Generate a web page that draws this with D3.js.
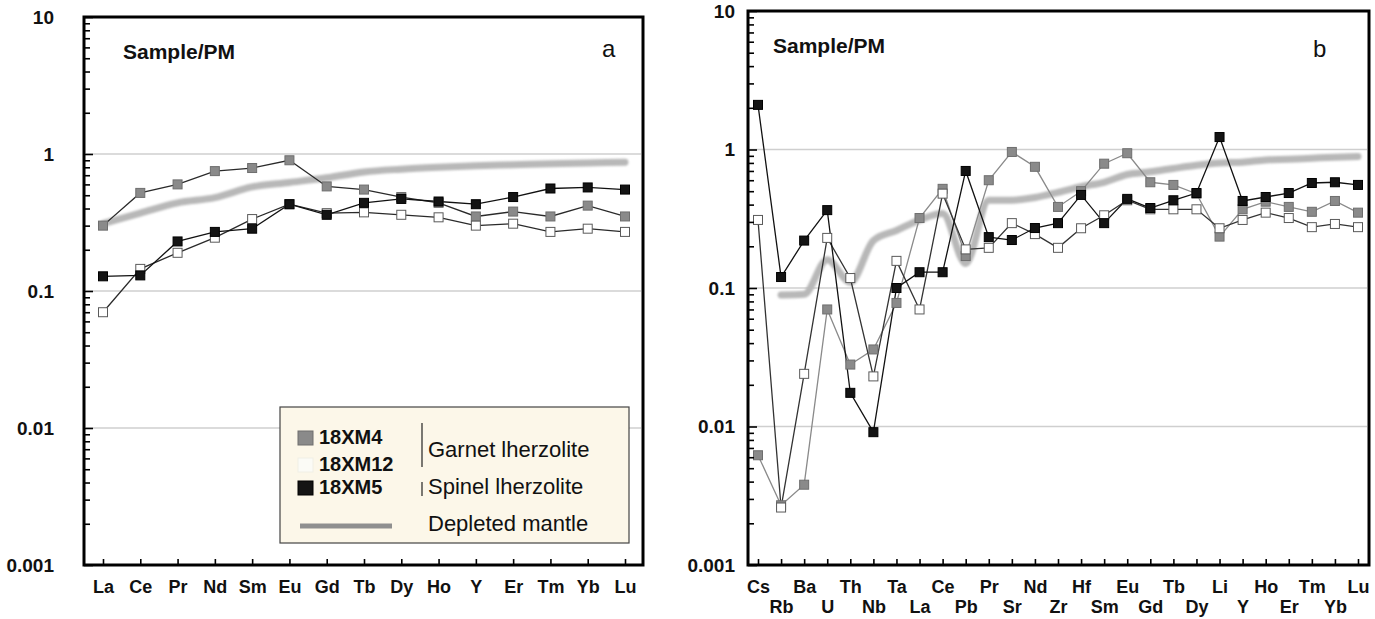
<!DOCTYPE html>
<html>
<head>
<meta charset="utf-8">
<script src="https://cdn.jsdelivr.net/npm/d3@7"></script>
<style>
  body { margin: 0; background: #fff; }
  text { font-family: "Liberation Sans", Arial, sans-serif; }
</style>
</head>
<body>
<script>
"use strict";

// Panel a: REE, normalised to primitive mantle
const catsA = ["La", "Ce", "Pr", "Nd", "Sm", "Eu", "Gd", "Tb", "Dy", "Ho", "Y", "Er", "Tm", "Yb", "Lu"];
const xm4A  = [0.30, 0.52, 0.60, 0.75, 0.79, 0.90, 0.58, 0.55, 0.485, 0.44, 0.35, 0.38, 0.35, 0.42, 0.35];
const xm12A = [0.07, 0.145, 0.19, 0.245, 0.335, 0.43, 0.37, 0.375, 0.36, 0.345, 0.30, 0.31, 0.27, 0.285, 0.27];
const xm5A  = [0.128, 0.13, 0.23, 0.27, 0.285, 0.43, 0.36, 0.44, 0.47, 0.45, 0.43, 0.485, 0.56, 0.57, 0.55];
const dmA   = [0.31, 0.37, 0.44, 0.48, 0.575, 0.62, 0.67, 0.74, 0.775, 0.80, 0.82, 0.835, 0.85, 0.86, 0.87];

// Panel b: trace elements, normalised to primitive mantle
const catsB = ["Cs", "Rb", "Ba", "U", "Th", "Nb", "Ta", "La", "Ce", "Pb", "Pr", "Sr", "Nd", "Zr",
               "Hf", "Sm", "Eu", "Gd", "Tb", "Dy", "Li", "Y", "Ho", "Er", "Tm", "Yb", "Lu"];
const xm4B  = [0.0062, 0.0027, 0.0038, 0.07, 0.028, 0.036, 0.078, 0.32, 0.52, 0.17, 0.60, 0.96, 0.75, 0.385,
               0.50, 0.79, 0.94, 0.58, 0.555, 0.48, 0.235, 0.37, 0.42, 0.385, 0.355, 0.425, 0.35];
const xm12B = [0.31, 0.0026, 0.024, 0.23, 0.118, 0.023, 0.157, 0.07, 0.48, 0.19, 0.195, 0.294, 0.245, 0.195,
               0.27, 0.335, 0.43, 0.37, 0.37, 0.37, 0.27, 0.31, 0.35, 0.32, 0.275, 0.29, 0.275];
const xm5B  = [2.1, 0.12, 0.22, 0.365, 0.0175, 0.0091, 0.10, 0.13, 0.13, 0.70, 0.233, 0.222, 0.271, 0.294,
               0.47, 0.294, 0.44, 0.378, 0.43, 0.485, 1.23, 0.425, 0.454, 0.485, 0.573, 0.58, 0.555];
const dmB   = [null, 0.089, 0.09, 0.16, 0.11, 0.22, 0.26, 0.31, 0.345, 0.15, 0.43, 0.43, 0.45, 0.49,
               0.54, 0.58, 0.66, 0.69, 0.73, 0.77, 0.80, 0.81, 0.84, 0.85, 0.865, 0.88, 0.89];

// Y axis labels
const yMajor = [0.001, 0.01, 0.1, 1, 10];
const yLabels = ["0.001", "0.01", "0.1", "1", "10"];

// Legend entries
const sampleNames = ["18XM4", "18XM12", "18XM5"];
const rockTypes = ["Garnet lherzolite", "Spinel lherzolite", "Depleted mantle"];

const styles = {
  xm4:  { fill: "#8a8a8a", stroke: "#6e6e6e" },
  xm12: { fill: "#ffffff", stroke: "#5a5a5a" },
  xm5:  { fill: "#141414", stroke: "#000000" }
};

const svg = d3.select("body").append("svg")
  .attr("width", 1375)
  .attr("height", 619);

// Soft blur for the depleted mantle band.
svg.append("defs").append("filter")
  .attr("id", "soft")
  .append("feGaussianBlur")
  .attr("stdDeviation", 1.2);

// Draws one spider diagram panel.
function drawPanel(p) {
  const g = svg.append("g");
  const x = d3.scalePoint().domain(p.cats).range([p.xFirst, p.xLast]);
  const y = d3.scaleLog().domain([0.001, 10]).range([p.bottom, p.top]);

  // Grid lines at inner decades
  g.selectAll(".grid")
    .data([0.01, 0.1, 1])
    .enter().append("line")
    .attr("x1", p.left + 2).attr("x2", p.right - 2)
    .attr("y1", d => y(d)).attr("y2", d => y(d))
    .attr("stroke", "#cfcfcf")
    .attr("stroke-width", 1.6);

  // Depleted mantle band
  const dmLine = d3.line()
    .defined(d => d.v != null)
    .x(d => x(d.c))
    .y(d => y(d.v))
    .curve(d3.curveMonotoneX);
  g.append("path")
    .datum(p.cats.map((c, i) => ({ c: c, v: p.dm[i] })))
    .attr("d", dmLine)
    .attr("fill", "none")
    .attr("stroke", "#b8b8b8")
    .attr("stroke-width", 7)
    .attr("stroke-linecap", "round")
    .attr("filter", "url(#soft)");

  // Sample series
  const line = d3.line().x(d => x(d.c)).y(d => y(d.v));
  p.series.forEach(s => {
    const pts = p.cats.map((c, i) => ({ c: c, v: s.vals[i] }));
    g.append("path")
      .datum(pts)
      .attr("d", line)
      .attr("fill", "none")
      .attr("stroke", s.line)
      .attr("stroke-width", 1.3);
  });
  p.series.forEach(s => {
    const pts = p.cats.map((c, i) => ({ c: c, v: s.vals[i] }));
    g.selectAll(null)
      .data(pts)
      .enter().append("rect")
      .attr("x", d => x(d.c) - 4.5)
      .attr("y", d => y(d.v) - 4.5)
      .attr("width", 9).attr("height", 9)
      .attr("fill", s.style.fill)
      .attr("stroke", s.style.stroke)
      .attr("stroke-width", 1);
  });

  // Y axis, ticks pointing inward
  const yTickVals = [];
  for (let e = -3; e < 1; e++) {
    for (let m = 1; m < 10; m++) yTickVals.push(m * Math.pow(10, e));
  }
  yTickVals.push(10);
  const yAxis = g.append("g")
    .attr("transform", `translate(${p.left},0)`)
    .call(d3.axisLeft(y)
      .tickValues(yTickVals)
      .tickSize(-6)
      .tickPadding(p.yPad)
      .tickFormat(d => {
        const i = yMajor.findIndex(v => Math.abs(v - d) < d * 1e-6);
        return i >= 0 ? yLabels[i] : "";
      }));
  yAxis.select(".domain").remove();
  yAxis.selectAll(".tick line")
    .attr("stroke", "#000")
    .attr("stroke-width", 1.6)
    .attr("x2", d => yMajor.some(v => Math.abs(v - d) < d * 1e-6) ? 9 : 6);
  yAxis.selectAll(".tick text")
    .attr("fill", "#111")
    .style("font-size", "19px")
    .style("font-weight", "bold");

  // X axis, ticks pointing up
  const xAxis = g.append("g")
    .attr("transform", `translate(0,${p.bottom})`)
    .call(d3.axisBottom(x).tickSize(-6).tickPadding(15));
  xAxis.select(".domain").remove();
  xAxis.selectAll(".tick line")
    .attr("stroke", "#000")
    .attr("stroke-width", 1.6);
  xAxis.selectAll(".tick text")
    .attr("fill", "#111")
    .style("font-size", "18px")
    .style("font-weight", "bold")
    .attr("dy", (d, i) => (p.twoRow && i % 2 === 1) ? "1.83em" : "0.71em");

  // Frame
  g.append("rect")
    .attr("x", p.left).attr("y", p.top)
    .attr("width", p.right - p.left)
    .attr("height", p.bottom - p.top)
    .attr("fill", "none")
    .attr("stroke", "#000")
    .attr("stroke-width", 3);

  g.append("text")
    .attr("x", p.titleX).attr("y", p.titleY)
    .style("font-size", "21px")
    .style("font-weight", "bold")
    .attr("fill", "#111")
    .text("Sample/PM");

  g.append("text")
    .attr("x", p.letterX).attr("y", 57)
    .style("font-size", "24px")
    .attr("fill", "#111")
    .text(p.letter);

  return g;
}

const gA = drawPanel({
  cats: catsA,
  series: [
    { vals: xm4A, style: styles.xm4, line: "#2a2a2a" },
    { vals: xm12A, style: styles.xm12, line: "#2a2a2a" },
    { vals: xm5A, style: styles.xm5, line: "#111" }
  ],
  dm: dmA,
  left: 84, right: 643, top: 17, bottom: 565,
  xFirst: 103, xLast: 625,
  yPad: 30, twoRow: false,
  titleX: 123, titleY: 59,
  letter: "a", letterX: 602
});

drawPanel({
  cats: catsB,
  series: [
    { vals: xm4B, style: styles.xm4, line: "#8a8a8a" },
    { vals: xm12B, style: styles.xm12, line: "#333" },
    { vals: xm5B, style: styles.xm5, line: "#111" }
  ],
  dm: dmB,
  left: 748, right: 1369, top: 11, bottom: 565,
  xFirst: 758, xLast: 1358,
  yPad: 13, twoRow: true,
  titleX: 773, titleY: 53,
  letter: "b", letterX: 1313
});

// Legend in panel a
const leg = gA.append("g");
leg.append("rect")
  .attr("x", 280).attr("y", 407)
  .attr("width", 349).attr("height", 136)
  .attr("fill", "#fcf7e9")
  .attr("stroke", "#444")
  .attr("stroke-width", 1.2);

const markerStyles = [styles.xm4, { fill: "#fbfbf6", stroke: "#f0efe6" }, styles.xm5];
const nameBaselines = [444, 471, 494];
sampleNames.forEach((n, i) => {
  leg.append("rect")
    .attr("x", 298).attr("y", nameBaselines[i] - 13)
    .attr("width", 15).attr("height", 14)
    .attr("fill", markerStyles[i].fill)
    .attr("stroke", markerStyles[i].stroke);
  leg.append("text")
    .attr("x", 319).attr("y", nameBaselines[i])
    .style("font-size", "20px")
    .style("font-weight", "bold")
    .attr("fill", "#111")
    .text(n);
});

leg.append("line")
  .attr("x1", 300).attr("x2", 392)
  .attr("y1", 526).attr("y2", 526)
  .attr("stroke", "#8f8f8f")
  .attr("stroke-width", 5);

leg.append("line")
  .attr("x1", 422).attr("x2", 422).attr("y1", 423).attr("y2", 467)
  .attr("stroke", "#222").attr("stroke-width", 1.2);
leg.append("line")
  .attr("x1", 422).attr("x2", 422).attr("y1", 482).attr("y2", 496)
  .attr("stroke", "#222").attr("stroke-width", 1.2);

const rockBaselines = [457, 494, 531];
rockTypes.forEach((t, i) => {
  leg.append("text")
    .attr("x", 428).attr("y", rockBaselines[i])
    .style("font-size", "22px")
    .attr("fill", "#111")
    .text(t);
});
</script>
</body>
</html>
